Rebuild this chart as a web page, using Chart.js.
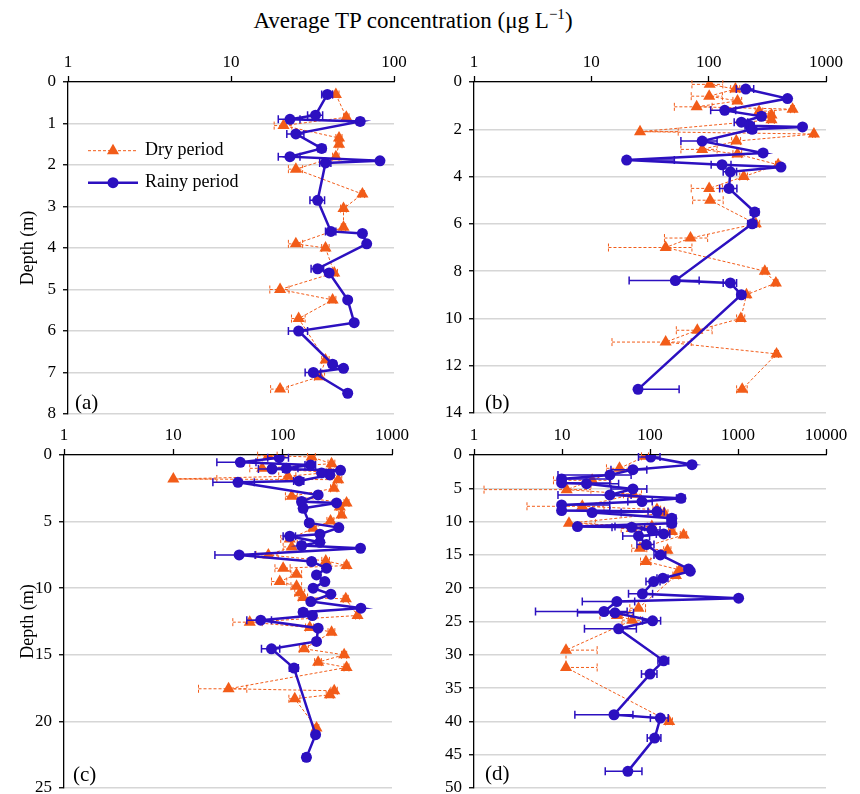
<!DOCTYPE html>
<html>
<head>
<meta charset="utf-8">
<script src="https://cdn.jsdelivr.net/npm/chart.js@4.4.1/dist/chart.umd.min.js"></script>
<style>
  body { margin: 0; background: #fff; width: 860px; height: 794px; position: relative; overflow: hidden; font-family: "Liberation Serif", "Times New Roman", serif; }
  canvas { position: absolute; }
  .title { position: absolute; left: 0; width: 826px; top: 6px; text-align: center; font-size: 23px; }
  .title sup { font-size: 15px; }
  .plab { position: absolute; font-size: 21px; line-height: 24px; }
</style>
</head>
<body>
<div class="title">Average TP concentration (μg L<sup>−1</sup>)</div>
<canvas id="pa" width="416" height="374" style="left:0px;top:52px"></canvas>
<canvas id="pb" width="414" height="373" style="left:434px;top:52px"></canvas>
<canvas id="pc" width="414" height="375" style="left:0px;top:425px"></canvas>
<canvas id="pd" width="414" height="375" style="left:434px;top:425px"></canvas>
<div class="plab" style="left:75px;top:390px">(a)</div>
<div class="plab" style="left:485px;top:390px">(b)</div>
<div class="plab" style="left:73px;top:762px">(c)</div>
<div class="plab" style="left:485px;top:761px">(d)</div>
<script>
// panel (a)
var aRainDepth = [0.3,0.8,0.9,0.95,1.25,1.6,1.8,1.9,1.95,2.85,3.6,3.65,3.9,4.5,4.6,5.25,5.8,6.0,6.8,6.9,7.0,7.5];
var aRainTP    = [39,33,23,62,25,36,23,82,38,34,41,64,68,34,40,52,57,26,42,49,32,52];
var aRainSD    = [3,3.5,3.5,3,3,2,3.5,2,3,3.5,3,2,2,3,2,2,2,3.5,2,2,3.5,2];
var aDryDepth  = [0.3,0.85,1.05,1.35,1.5,1.8,2.1,2.7,3.05,3.5,3.9,4.0,4.6,5.0,5.25,5.7,6.7,7.1,7.4];
var aDryTP     = [44,51,21,46,46,44,25,64,49,49,25,38,43,20,42,26,38,35,20];
var aDrySD     = [2,2,2.6,2,2,2,2.5,2,2,1.5,2.5,2,2,2.7,2,2.5,2,2.5,2.5];

// panel (b)
var bRainDepth = [0.3,0.7,1.2,1.45,1.7,1.85,1.9,2.0,2.5,3.0,3.3,3.5,3.6,3.8,4.5,5.5,6.0,8.4,8.5,9.0,13.0];
var bRainTP    = [207,470,137,282,190,224,631,235,88,291,20,130,413,153,149,247,235,52,153,190,25];
var bRainSD    = [35,20,33,20,25,20,20,20,30,20,31,25,15,20,25,20,20,31,20,15,31];
var bDryDepth  = [0.1,0.3,0.6,0.8,1.05,1.15,1.25,1.4,1.6,2.1,2.2,2.5,2.85,3.05,3.5,4.0,4.5,5.0,6.0,6.6,7.0,8.0,8.5,9.0,10.0,10.5,11.0,11.5,13.0];
var bDryTP     = [102,169,101,176,79,519,269,343,343,26,789,172,88,176,391,199,101,103,252,70,43,301,374,210,188,80,43,379,193];
var bDrySD     = [30,15,30,15,28,20,20,20,20,29,20,15,30,15,20,15,30,30,20,28,29,15,15,15,15,27,28,15,20];

// panel (c)
var cRainDepth = [0.2,0.55,0.75,1.0,1.05,1.15,1.35,1.5,1.95,2.05,3.0,3.5,3.6,4.0,5.1,5.45,5.95,6.1,6.55,6.8,7.0,7.5,8.0,8.5,9.0,9.5,10.0,10.45,11.0,11.5,11.8,12.05,12.4,13.0,14.0,14.55,16.0,21.0,22.7];
var cRainTP    = [93,41,180,108,80,338,227,270,141,39,211,149,311,154,175,326,219,116,219,149,515,40,184,252,204,243,190,276,181,519,154,187,63,211,204,79,127,200,165];
var cRainSD    = [20,16,20,30,20,15,15,15,15,16,12,12,12,12,12,12,12,15,12,12,10,16,12,12,10,10,10,10,10,10,12,12,16,12,12,15,12,10,12];
var cDryDepth  = [0.05,0.15,0.65,1.0,1.3,1.6,1.8,1.85,2.5,3.1,3.6,3.9,4.5,4.95,5.5,6.3,6.9,7.5,7.95,8.3,8.5,8.95,9.5,9.85,10.35,10.7,10.8,12.05,12.55,12.95,13.3,14.55,15.0,15.55,15.95,17.55,17.7,18.0,18.3,20.5];
var cDryTP     = [74,184,280,65,270,112,10,322,294,121,384,333,346,274,190,116,121,74,248,384,101,134,94,134,144,154,378,484,50,177,280,157,365,211,384,32,296,270,129,204];
var cDrySD     = [15,15,20,15,20,20,15,25,20,15,20,20,20,20,15,20,20,17,20,20,16,15,15,15,15,15,20,20,15,15,20,15,20,15,20,15,20,20,15,10];

// panel (d)
var dRainDepth = [0.3,1.45,2.2,3.0,3.6,4.2,4.3,5.1,6.0,6.5,7.0,7.5,8.35,8.5,8.65,9.5,10.25,10.75,10.85,11.25,11.85,12.15,13.45,15.0,17.1,17.45,18.5,19.0,20.85,21.5,22.0,23.5,23.7,24.9,26.1,30.9,32.9,39.0,39.5,42.5,47.5];
var dRainTP    = [102,300,64,35,9.9,9.9,19,64,35,225,81,9.9,9.9,120,22,177,177,15,62,105,143,74,91,131,274,287,140,110,82,1016,42,30,40,107,44,143,100,39,131,113,56];
var dRainSD    = [28,20,28,26,25,25,25,28,26,25,25,25,25,25,25,20,20,25,25,25,25,25,20,20,20,20,20,20,25,30,25,25,25,25,26,20,20,25,30,20,25];
var dDryDepth  = [0.2,2.0,3.8,5.2,5.9,7.7,8.2,8.75,10.25,10.75,11.05,11.5,12.0,14.0,14.3,16.0,17.25,18.1,23.0,24.1,24.8,29.3,31.9,40.0];
var dDryTP     = [88,45,22,11.3,65,17,120,145,12,105,62,177,241,77,158,90,217,197,74,42,63,11.1,11.1,165];
var dDrySD     = [8,13,14,10,15,13,12,15,12,12,15,15,20,15,15,12,15,15,15,15,15,14,14,15];

var xTicksA = [1,10,100];
var xTicksB = [1,10,100,1000];
var xTicksD = [1,10,100,1000,10000];

const DRY = '#F25C19';
const RAIN = '#2C10C0';

Chart.defaults.font.family = '"Liberation Serif", "Times New Roman", serif';
Chart.defaults.font.size = 17;
Chart.defaults.color = '#000';

function pts(tp, depth) {
  return tp.map(function (v, i) { return { x: v, y: depth[i] }; });
}

const errorBars = {
  id: 'errorBars',
  afterDatasetDraw(chart, args) {
    const ds = chart.data.datasets[args.index];
    const xs = chart.scales.x, ys = chart.scales.y;
    const ctx = chart.ctx;
    ctx.save();
    ctx.strokeStyle = ds.borderColor;
    ctx.lineWidth = ds.errWidth;
    ctx.setLineDash(ds.errDash);
    ds.data.forEach(function (p, i) {
      const sd = ds.sd[i];
      const py = ys.getPixelForValue(p.y);
      const hi = xs.getPixelForValue(p.x + sd);
      const hasLo = p.x - sd > 0;
      const lo = xs.getPixelForValue(hasLo ? p.x - sd : p.x);
      ctx.beginPath();
      ctx.moveTo(lo, py); ctx.lineTo(hi, py);
      ctx.moveTo(hi, py - 4); ctx.lineTo(hi, py + 4);
      if (hasLo) { ctx.moveTo(lo, py - 4); ctx.lineTo(lo, py + 4); }
      ctx.stroke();
    });
    ctx.restore();
  }
};

const periodLegend = {
  id: 'periodLegend',
  afterDraw(chart) {
    const ctx = chart.ctx;
    ctx.save();
    // dry
    ctx.strokeStyle = DRY; ctx.lineWidth = 1; ctx.setLineDash([3, 2]);
    ctx.beginPath(); ctx.moveTo(88, 98.7); ctx.lineTo(138, 98.7); ctx.stroke();
    ctx.setLineDash([]);
    ctx.fillStyle = DRY;
    Chart.helpers.drawPoint(ctx, { pointStyle: 'triangle', radius: 7, rotation: 0, borderWidth: 0 }, 113, 98.7);
    // rainy
    ctx.strokeStyle = RAIN; ctx.lineWidth = 2.5;
    ctx.beginPath(); ctx.moveTo(88, 130.7); ctx.lineTo(138, 130.7); ctx.stroke();
    ctx.fillStyle = RAIN;
    Chart.helpers.drawPoint(ctx, { pointStyle: 'circle', radius: 5.5, rotation: 0, borderWidth: 0 }, 113, 130.7);
    ctx.fillStyle = '#000';
    ctx.font = '18px "Liberation Serif", "Times New Roman", serif';
    ctx.textBaseline = 'middle';
    ctx.fillText('Dry period', 145, 98.7);
    ctx.fillText('Rainy period', 145, 130.7);
    ctx.restore();
  }
};

function makePanel(id, o) {
  const datasets = [{
    label: 'Rainy period',
    data: pts(o.rainTP, o.rainDepth),
    sd: o.rainSD,
    showLine: true,
    borderColor: RAIN,
    backgroundColor: RAIN,
    borderWidth: 2.5,
    pointStyle: 'circle',
    pointRadius: 5.5,
    pointBorderWidth: 0,
    errWidth: 1.5,
    errDash: [],
    tension: 0
  }, {
    label: 'Dry period',
    data: pts(o.dryTP, o.dryDepth),
    sd: o.drySD,
    showLine: true,
    borderColor: DRY,
    backgroundColor: DRY,
    borderWidth: 1,
    borderDash: [3, 2],
    pointStyle: 'triangle',
    pointRadius: 7,
    pointBorderWidth: 0,
    errWidth: 1,
    errDash: [3, 2],
    tension: 0
  }];

  return new Chart(document.getElementById(id), {
    type: 'scatter',
    data: { datasets: datasets },
    options: {
      responsive: false,
      animation: false,
      devicePixelRatio: 1,
      layout: { padding: { left: 0, top: 0, right: 22, bottom: 12 } },
      plugins: { legend: { display: false }, tooltip: { enabled: false } },
      scales: {
        x: {
          type: 'logarithmic',
          position: 'top',
          min: 1,
          max: o.xTicks[o.xTicks.length - 1],
          afterBuildTicks: function (s) { s.ticks = o.xTicks.map(function (v) { return { value: v }; }); },
          afterFit: function (s) { s.height = 30; s.paddingLeft = s.paddingRight = s.paddingTop = s.paddingBottom = 0; },
          ticks: { autoSkip: false, maxRotation: 0, padding: 3, callback: function (v) { return String(v); } },
          grid: { drawOnChartArea: false, tickLength: 6, tickColor: '#000', tickWidth: 1.3 },
          border: { color: '#000', width: 1.3 }
        },
        y: {
          type: 'linear',
          reverse: true,
          min: 0,
          max: o.yMax,
          afterFit: function (s) { s.width = o.yWidth; s.paddingLeft = s.paddingRight = s.paddingTop = s.paddingBottom = 0; },
          ticks: { stepSize: o.yStep, padding: 7 },
          grid: { color: '#d6d6d6', lineWidth: 1.5, tickLength: 5, tickColor: '#000', tickWidth: 1.3 },
          border: { color: '#000', width: 1.3 },
          title: {
            display: o.yTitle,
            text: 'Depth (m)',
            font: { size: 18 },
            padding: { top: 17, bottom: 0 }
          }
        }
      }
    },
    plugins: o.legend ? [errorBars, periodLegend] : [errorBars]
  });
}

makePanel('pa', { rainTP: aRainTP, rainDepth: aRainDepth, rainSD: aRainSD, dryTP: aDryTP, dryDepth: aDryDepth, drySD: aDrySD,
  xTicks: xTicksA, yMax: 8, yStep: 1, yWidth: 68, yTitle: true, legend: true });
makePanel('pb', { rainTP: bRainTP, rainDepth: bRainDepth, rainSD: bRainSD, dryTP: bDryTP, dryDepth: bDryDepth, drySD: bDrySD,
  xTicks: xTicksB, yMax: 14, yStep: 2, yWidth: 40, yTitle: false, legend: false });
makePanel('pc', { rainTP: cRainTP, rainDepth: cRainDepth, rainSD: cRainSD, dryTP: cDryTP, dryDepth: cDryDepth, drySD: cDrySD,
  xTicks: xTicksB, yMax: 25, yStep: 5, yWidth: 64, yTitle: true, legend: false });
makePanel('pd', { rainTP: dRainTP, rainDepth: dRainDepth, rainSD: dRainSD, dryTP: dDryTP, dryDepth: dDryDepth, drySD: dDrySD,
  xTicks: xTicksD, yMax: 50, yStep: 5, yWidth: 40, yTitle: false, legend: false });
</script>
</body>
</html>
